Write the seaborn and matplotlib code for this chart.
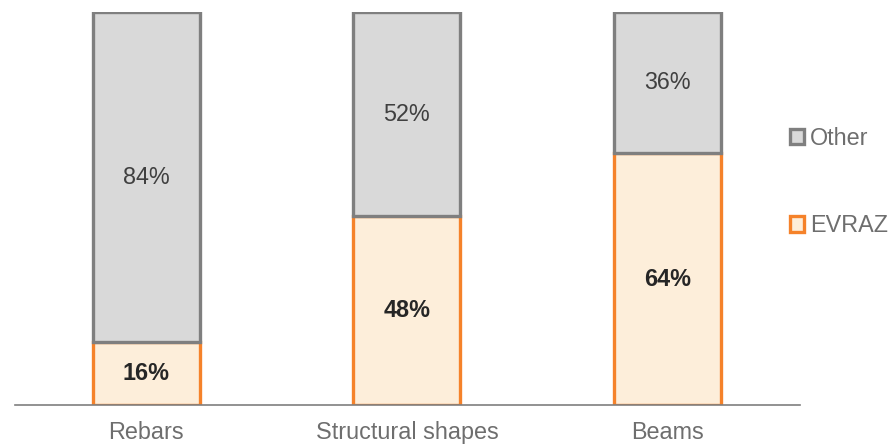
import matplotlib
matplotlib.use("Agg")
import matplotlib.pyplot as plt
import seaborn as sns
import pandas as pd
from matplotlib.patches import Patch

categories = ["Rebars", "Structural shapes", "Beams"]
evraz = [16, 48, 64]
other = [84, 52, 36]

sns.set_theme(style="white")
plt.rcParams['font.family'] = ['Liberation Sans', 'DejaVu Sans']

df = pd.DataFrame({"category": categories, "EVRAZ": evraz, "Other": other})

fig = plt.figure(figsize=(8.91, 4.45), dpi=100)
ax = fig.add_axes([15/891, 1-405/445, 785/891, 393/445])

EV_FILL, EV_EDGE = "#FDEEDA", "#F5822A"
OT_FILL, OT_EDGE = "#D9D9D9", "#7F7F7F"

sns.barplot(data=df, x="category", y="EVRAZ", ax=ax, color=EV_FILL,
            edgecolor=EV_EDGE, linewidth=2.4, width=0.41, saturation=1)
sns.barplot(data=df, x="category", y="Other", ax=ax, color=OT_FILL,
            edgecolor=OT_EDGE, linewidth=2.4, width=0.41, saturation=1,
            bottom=df["EVRAZ"].values)

FS = 16.8
for i, (e, o) in enumerate(zip(evraz, other)):
    ax.text(i, e/2, f"{e}%", ha="center", va="center", fontsize=FS,
            fontweight="bold", color="#262626")
    ax.text(i, e + o/2, f"{o}%", ha="center", va="center", fontsize=FS,
            color="#404040")

ax.set_xlim(-0.502, 2.506)
ax.set_ylim(0, 100)
ax.set_xlabel("")
ax.set_ylabel("")
ax.set_yticks([])
for s in ["top", "right", "left"]:
    ax.spines[s].set_visible(False)
ax.spines["bottom"].set_color("#7F7F7F")
ax.spines["bottom"].set_linewidth(1.2)
ax.tick_params(axis="x", length=0, pad=11.5, labelsize=FS, labelcolor="#6E6E6E")

handles = [Patch(facecolor=OT_FILL, edgecolor=OT_EDGE, linewidth=2.4, label="Other"),
           Patch(facecolor=EV_FILL, edgecolor=EV_EDGE, linewidth=2.4, label="EVRAZ")]
leg = fig.legend(handles=handles, loc="upper left", bbox_to_anchor=(790/891, 1-127/445),
                 frameon=False, fontsize=FS, labelspacing=2.75, handlelength=0.62,
                 handleheight=0.62, handletextpad=0.25, borderpad=0, borderaxespad=0)
for t in leg.get_texts():
    t.set_color("#6E6E6E")

fig.savefig("out.png", dpi=100)
